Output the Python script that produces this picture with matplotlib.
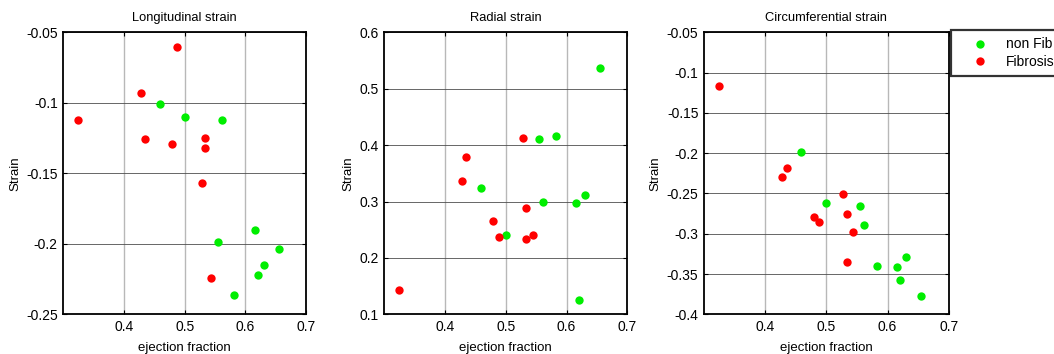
import matplotlib
matplotlib.use("Agg")
import matplotlib.pyplot as plt

plt.rcParams['font.family'] = ['Liberation Sans', 'DejaVu Sans']

# Ejection fraction per group
ef_nonfib = [0.459, 0.500, 0.555, 0.562, 0.582, 0.616, 0.621, 0.630, 0.655]
ef_fib = [0.325, 0.428, 0.435, 0.479, 0.488, 0.528, 0.533, 0.533, 0.544]

# Longitudinal strain
long_nonfib = [-0.101, -0.110, -0.199, -0.112, -0.236, -0.190, -0.222, -0.215, -0.204]
long_fib = [-0.112, -0.093, -0.126, -0.129, -0.0605, -0.157, -0.125, -0.132, -0.224]

# Radial strain
rad_nonfib = [0.324, 0.240, 0.410, 0.300, 0.417, 0.298, 0.126, 0.312, 0.537]
rad_fib = [0.143, 0.337, 0.379, 0.266, 0.237, 0.412, 0.289, 0.233, 0.240]

# Circumferential strain
circ_nonfib = [-0.199, -0.262, -0.265, -0.289, -0.340, -0.341, -0.357, -0.329, -0.377]
circ_fib = [-0.117, -0.229, -0.218, -0.279, -0.286, -0.251, -0.276, -0.335, -0.298]

titles = ["Longitudinal strain", "Radial strain", "Circumferential strain"]
ylims = [(-0.25, -0.05), (0.1, 0.6), (-0.4, -0.05)]
yticks = [[-0.25, -0.2, -0.15, -0.1, -0.05],
          [0.1, 0.2, 0.3, 0.4, 0.5, 0.6],
          [-0.4, -0.35, -0.3, -0.25, -0.2, -0.15, -0.1, -0.05]]
ytick_labels = [["-0.25", "-0.2", "-0.15", "-0.1", "-0.05"],
                ["0.1", "0.2", "0.3", "0.4", "0.5", "0.6"],
                ["-0.4", "-0.35", "-0.3", "-0.25", "-0.2", "-0.15", "-0.1", "-0.05"]]
xticks = [0.4, 0.5, 0.6, 0.7]
xtick_labels = ["0.4", "0.5", "0.6", "0.7"]

green = "#00ee00"
red = "#ff0000"

W, H = 1054, 354
fig = plt.figure(figsize=(W / 100, H / 100), dpi=100)

boxes = [(63.3, 306.0), (384.3, 627.3), (704.0, 948.7)]
top_px, bot_px = 32.3, 314.3

data = [(long_nonfib, long_fib), (rad_nonfib, rad_fib), (circ_nonfib, circ_fib)]

handles = None
for i, ((l, r), (yn, yf)) in enumerate(zip(boxes, data)):
    ax = fig.add_axes([l / W, (H - bot_px) / H, (r - l) / W, (bot_px - top_px) / H])
    hn, = ax.plot(ef_nonfib, yn, 'o', color=green, mec='none', ms=6, label="non Fib", zorder=3)
    hf, = ax.plot(ef_fib, yf, 'o', color=red, mec='none', ms=6, label="Fibrosis", zorder=3)
    handles = [hn, hf]
    ax.set_xlim(0.3, 0.7)
    ax.set_ylim(*ylims[i])
    ax.set_xticks(xticks)
    ax.set_xticklabels(xtick_labels)
    ax.set_yticks(yticks[i])
    ax.set_yticklabels(ytick_labels[i])
    ax.tick_params(direction='in', length=3, width=0.8, top=True, right=True,
                   labelsize=10, pad=4, colors='black')
    ax.xaxis.grid(True, color='0.72', lw=1.0)
    ax.yaxis.grid(True, color='0.3', lw=0.6)
    ax.set_axisbelow(True)
    for sp in ax.spines.values():
        sp.set_linewidth(1.3)
        sp.set_color('black')
    ax.set_title(titles[i], fontsize=9.3, pad=8)
    ax.set_xlabel("ejection fraction", fontsize=9.5, labelpad=6)
    ax.set_ylabel("Strain", fontsize=9.5, labelpad=3.5)

leg = fig.legend(handles=handles, loc='upper left',
                 bbox_to_anchor=(951 / W, 1 - 30.5 / H), borderaxespad=0,
                 fontsize=10, frameon=True, fancybox=False, edgecolor='black',
                 handlelength=3.2, handletextpad=0.25, borderpad=0.5,
                 labelspacing=0.25, markerscale=1.0)
leg.get_frame().set_linewidth(1.6)

fig.savefig("out.png", dpi=100)
